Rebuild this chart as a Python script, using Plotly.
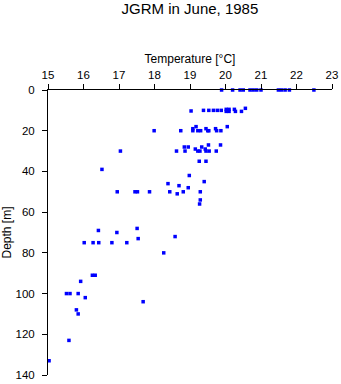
import plotly.graph_objects as go

# Temperature [°C] and depth [m]
temperature = [
    # surface
    19.89, 20.20, 20.41, 20.50, 20.69, 20.78, 20.88, 21.00, 21.49, 21.58, 21.68, 21.80, 22.49,
    # ~10 m
    19.03, 19.38, 19.53, 19.66, 19.77, 19.88, 20.02, 20.02, 20.10, 20.10, 20.25, 20.28, 20.45, 20.56,
    # ~20 m
    17.99, 18.74, 19.08, 19.08, 19.17, 19.22, 19.30, 19.45, 19.50, 19.53, 19.72, 19.75, 19.87, 20.05,
    # ~30 m
    17.04, 18.62, 18.84, 18.95, 18.86, 19.15, 19.22, 19.28, 19.33, 19.43, 19.45, 19.52, 19.54, 19.74, 19.86,
    # 35-56 m
    19.26, 19.45, 16.52, 18.98, 19.40, 18.38, 18.69, 18.95,
    16.95, 17.45, 17.52, 17.86, 18.43, 18.64, 18.81, 19.29, 19.29, 19.27,
    # 68-80 m
    16.42, 16.94, 17.51, 17.54, 18.58, 16.02, 16.27, 16.43, 16.80, 17.22, 18.26,
    # deep
    16.25, 16.33, 15.92, 15.52, 15.62, 15.85, 16.05, 17.68, 15.80, 15.85, 15.59, 15.03,
]
depth = [
    0, 0, 0, 0, 0, 0, 0, 0, 0, 0, 0, 0, 0,
    10.3, 10, 10, 10, 10, 10, 9.5, 10.5, 9.5, 10.5, 9.5, 10.5, 10.5, 9,
    20, 20, 19, 20, 18, 20, 20, 19, 20, 20, 19, 20, 20, 18,
    30, 30, 28, 28, 30, 29, 30, 30, 28, 29, 30, 27, 30, 30, 27,
    35, 35, 39, 42, 45, 46, 47, 48,
    50, 50, 50, 50, 50, 51, 50, 50, 54, 56,
    69, 70, 68, 73, 72, 75, 75, 75, 75, 75, 80,
    91, 91, 94, 100, 100, 100, 102, 104, 108, 110, 123, 133,
]

x_ticks = [15, 16, 17, 18, 19, 20, 21, 22, 23]
y_ticks = [0, 20, 40, 60, 80, 100, 120, 140]

fig = go.Figure(go.Scatter(
    x=temperature, y=depth, mode="markers", cliponaxis=False,
    marker=dict(symbol="square", size=3.5, color="#0000ff", line=dict(width=0)),
    showlegend=False, hoverinfo="x+y",
))

font = "Liberation Sans, Arial, sans-serif"
fig.update_layout(
    width=341, height=384,
    margin=dict(l=48, r=9, t=90, b=9),
    paper_bgcolor="white", plot_bgcolor="white",
    font=dict(family=font, size=11.5, color="black"),
    title=dict(text="JGRM in June, 1985", x=0.557, xanchor="center",
               y=0.99, yanchor="top", font=dict(size=15, family=font)),
)
fig.update_xaxes(
    side="top", range=[15, 23], tickvals=x_ticks, ticktext=[str(v) for v in x_ticks],
    showgrid=False, zeroline=False, showline=True, linecolor="black", linewidth=1,
    ticks="outside", ticklen=5, tickcolor="black", tickwidth=1, automargin=False,
    title=dict(text="Temperature [°C]", font=dict(size=12), standoff=3),
)
fig.update_yaxes(
    range=[140, 0], tickvals=y_ticks, ticktext=[str(v) for v in y_ticks],
    showgrid=False, zeroline=False, showline=True, linecolor="black", linewidth=1,
    ticks="outside", ticklen=5, tickcolor="black", tickwidth=1, ticklabelstandoff=5,
    automargin=False,
    title=dict(text="Depth [m]", font=dict(size=12), standoff=8),
)

fig.write_html("out.html")
